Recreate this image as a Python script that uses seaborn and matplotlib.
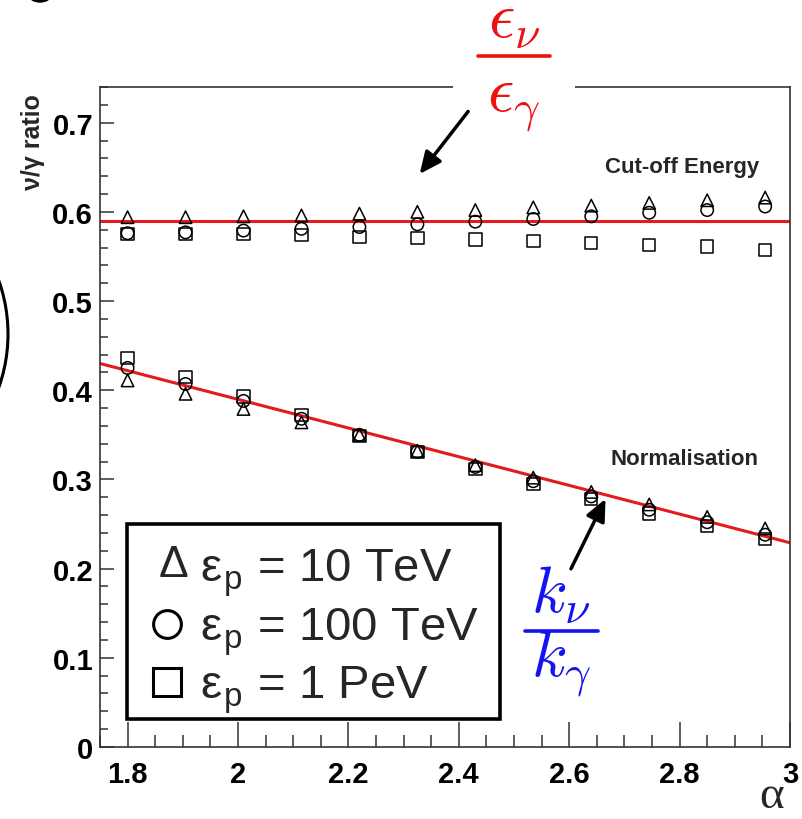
import numpy as np
import pandas as pd
import matplotlib
matplotlib.use('Agg')
import matplotlib.pyplot as plt
import seaborn as sns
from matplotlib.patches import Rectangle, Arc, Ellipse
from matplotlib.lines import Line2D
from matplotlib.ticker import MultipleLocator

# values
alpha = [1.80, 1.905, 2.01, 2.115, 2.22, 2.325, 2.43, 2.535, 2.64, 2.745, 2.85, 2.955]

cutoff_10tev = [0.594, 0.594, 0.595, 0.596, 0.598, 0.600, 0.602, 0.605, 0.607, 0.610, 0.613, 0.616]
cutoff_100tev = [0.576, 0.577, 0.579, 0.581, 0.583, 0.586, 0.589, 0.592, 0.595, 0.599, 0.602, 0.606]
cutoff_1pev = [0.575, 0.575, 0.575, 0.574, 0.572, 0.571, 0.569, 0.567, 0.565, 0.563, 0.561, 0.557]

norm_10tev = [0.411, 0.396, 0.379, 0.364, 0.350, 0.332, 0.316, 0.302, 0.286, 0.272, 0.258, 0.245]
norm_100tev = [0.425, 0.407, 0.388, 0.368, 0.350, 0.331, 0.314, 0.298, 0.281, 0.266, 0.252, 0.238]
norm_1pev = [0.436, 0.415, 0.393, 0.372, 0.349, 0.331, 0.312, 0.295, 0.278, 0.262, 0.248, 0.233]

cutoff_fit = 0.59
norm_fit_x = [1.75, 3.0]
norm_fit_y = [0.430, 0.229]

energies = ['10 TeV', '100 TeV', '1 PeV']
markers = {'10 TeV': '^', '100 TeV': 'o', '1 PeV': 's'}

df = pd.DataFrame({
    'alpha': alpha * 6,
    'ratio': cutoff_10tev + cutoff_100tev + cutoff_1pev + norm_10tev + norm_100tev + norm_1pev,
    'energy': sum([[e] * len(alpha) for e in energies], []) * 2,
})

sns.set_theme(style='white')
plt.rcParams['font.family'] = ['Liberation Sans', 'DejaVu Sans']
plt.rcParams['mathtext.fontset'] = 'cm'

W, H = 803, 820
fig = plt.figure(figsize=(8.03, 8.20), dpi=100)
ax = fig.add_axes([0.1245, 0.0878, 0.8593, 0.8049])

# fit lines
ax.axhline(cutoff_fit, color='#e41a1c', lw=2.2, zorder=2)
sns.lineplot(x=norm_fit_x, y=norm_fit_y, color='#e41a1c', lw=2.2, ax=ax, zorder=2)

for e in energies:
    sub = df[df['energy'] == e]
    sns.scatterplot(data=sub, x='alpha', y='ratio', marker=markers[e], s=80,
                    facecolors='none', edgecolors='black', linewidth=1.1, ax=ax, zorder=3)

ax.set_xlim(1.75, 3.0)
ax.set_ylim(0, 0.74)
ax.set_xlabel('')
ax.set_ylabel('')

ax.xaxis.set_major_locator(MultipleLocator(0.2))
ax.xaxis.set_minor_locator(MultipleLocator(0.05))
ax.yaxis.set_major_locator(MultipleLocator(0.1))
ax.yaxis.set_minor_locator(MultipleLocator(0.02))
ax.set_xticks([1.8, 2.0, 2.2, 2.4, 2.6, 2.8, 3.0])
ax.set_xticklabels(['1.8', '2', '2.2', '2.4', '2.6', '2.8', '3'])
ax.set_yticks([0, 0.1, 0.2, 0.3, 0.4, 0.5, 0.6, 0.7])
ax.set_yticklabels(['0', '0.1', '0.2', '0.3', '0.4', '0.5', '0.6', '0.7'])

ax.tick_params(axis='both', which='both', direction='in', colors='#333333',
               labelcolor='black', labelsize=21, bottom=True, left=True, top=False, right=False)
ax.tick_params(axis='x', which='major', length=18, width=1.1, pad=9)
ax.tick_params(axis='x', which='minor', length=9, width=1.1)
ax.tick_params(axis='y', which='major', length=10, width=1.1, pad=5)
ax.tick_params(axis='y', which='minor', length=6, width=1.1)
for lab in ax.get_xticklabels() + ax.get_yticklabels():
    lab.set_fontweight('bold')
for sp in ax.spines.values():
    sp.set_color('#333333')
    sp.set_linewidth(1.2)

# labels
fig.text(33 / W, 1 - 94 / H, 'ν/γ ratio', rotation=90, ha='center', va='top',
         fontsize=18, fontweight='bold')
fig.text(772 / W, 1 - 797 / H, 'α', ha='center', va='center', fontsize=34,
         family='Liberation Serif')

ax.text(0.955, 0.88, 'Cut-off Energy', transform=ax.transAxes, ha='right', va='center',
        fontsize=16, fontweight='bold')
ax.text(0.955, 0.437, 'Normalisation', transform=ax.transAxes, ha='right', va='center',
        fontsize=16, fontweight='bold')

# red fraction breaking the top frame
red = '#ee1111'
fig.add_artist(Rectangle((453 / W, 1 - 96 / H), 122 / W, 16 / H, transform=fig.transFigure,
                         fc='white', ec='none'))
fig.text(514 / W, 1 - 38 / H, r'$\epsilon_\nu$', ha='center', va='baseline', fontsize=47, color=red)
fig.add_artist(Line2D([478 / W, 550 / W], [1 - 57 / H] * 2, transform=fig.transFigure,
                      color=red, lw=2.6))
fig.text(514 / W, 1 - 111 / H, r'$\epsilon_\gamma$', ha='center', va='baseline', fontsize=47, color=red)
ax.annotate('', xy=(2.326, 0.640), xytext=(2.420, 0.715),
            arrowprops=dict(arrowstyle='-|>,head_width=0.5,head_length=1.1', color='black', lw=2.5),
            annotation_clip=False, zorder=6)

# blue fraction
blue = '#1414ee'
fig.text(561 / W, 1 - 613 / H, r'$k_\nu$', ha='center', va='baseline', fontsize=47, color=blue)
fig.add_artist(Line2D([525 / W, 598 / W], [1 - 632 / H] * 2, transform=fig.transFigure,
                      color=blue, lw=2.6))
fig.text(561 / W, 1 - 676 / H, r'$k_\gamma$', ha='center', va='baseline', fontsize=47, color=blue)
ax.annotate('', xy=(2.668, 0.281), xytext=(2.601, 0.197),
            arrowprops=dict(arrowstyle='-|>,head_width=0.5,head_length=1.1', color='black', lw=2.5),
            zorder=6)

# legend box
ax.add_patch(Rectangle((0.039, 0.042), 0.541, 0.296, transform=ax.transAxes,
                       fill=False, ec='black', lw=2.6, zorder=4))
legend_rows = [('^', 'ε$_\\mathregular{p}$ = 10 TeV', 0.264),
               ('o', 'ε$_\\mathregular{p}$ = 100 TeV', 0.175),
               ('s', 'ε$_\\mathregular{p}$ = 1 PeV', 0.087)]
for mk, txt, yy in legend_rows:
    if mk == '^':
        ax.text(0.107, yy + 0.012, 'Δ', transform=ax.transAxes, ha='center', va='center', fontsize=32)
    else:
        ax.plot([0.097], [yy + 0.012], marker=mk, ms=20, mfc='none', mec='black', mew=2.2,
                transform=ax.transAxes, ls='none')
    ax.text(0.145, yy, txt, transform=ax.transAxes, ha='left', va='center', fontsize=34)

# stray shapes cropped from the slide edge
fig.add_artist(Arc((-152 / W, 1 - 335 / H), 320 / W, 320 / H, theta1=-25, theta2=25,
                   transform=fig.transFigure, color='black', lw=2.2))
fig.add_artist(Ellipse((40 / W, 1 + 4 / H), 22 / W, 14 / H,
                       transform=fig.transFigure, color='black'))

plt.savefig('out.png', dpi=100)
